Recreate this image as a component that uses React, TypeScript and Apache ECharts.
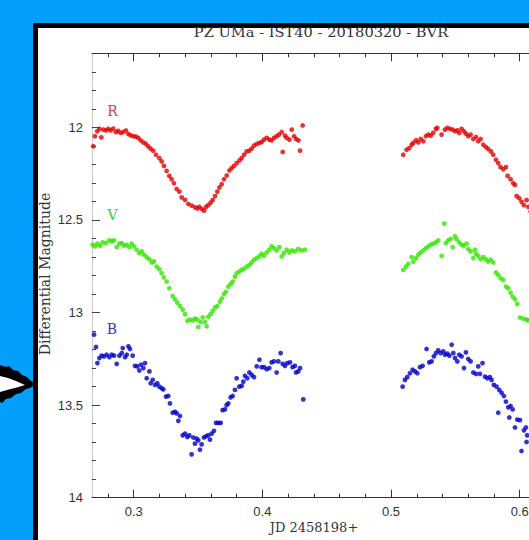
import React, { useEffect, useRef } from "react";
import * as echarts from "echarts";

// Light curve data: [JD - 2458198, differential magnitude]
const R_FIRST: number[][] = [
  [0.2686,12.102],[0.2699,12.048],[0.2717,12.021],[0.2733,12.008],[0.2748,12.054],[0.2764,12.012],[0.2785,12.016],[0.2803,12.008],[0.2821,12.017],[0.2841,12.007],[0.2862,12.026],[0.2880,12.019],[0.2899,12.030],[0.2919,12.025],[0.2940,12.017],[0.2958,12.036],[0.2976,12.043],[0.2997,12.048],[0.3017,12.050],[0.3036,12.057],[0.3054,12.070],[0.3074,12.081],[0.3095,12.090],[0.3113,12.103],[0.3131,12.115],[0.3152,12.126],[0.3173,12.148],[0.3199,12.166],[0.3217,12.184],[0.3235,12.208],[0.3256,12.235],[0.3277,12.262],[0.3295,12.280],[0.3313,12.302],[0.3334,12.333],[0.3355,12.347],[0.3373,12.378],[0.3399,12.392],[0.3425,12.414],[0.3451,12.423],[0.3477,12.432],[0.3495,12.438],[0.3510,12.429],[0.3529,12.441],[0.3547,12.450],[0.3562,12.429],[0.3580,12.420],[0.3598,12.407],[0.3614,12.393],[0.3632,12.371],[0.3650,12.347],[0.3666,12.325],[0.3684,12.307],[0.3702,12.280],[0.3723,12.260],[0.3744,12.233],[0.3762,12.220],[0.3780,12.208],[0.3801,12.193],[0.3822,12.179],[0.3839,12.166],[0.3858,12.148],[0.3878,12.130],[0.3899,12.126],[0.3917,12.115],[0.3935,12.099],[0.3956,12.090],[0.3977,12.084],[0.3995,12.079],[0.4013,12.066],[0.4034,12.057],[0.4054,12.066],[0.4072,12.070],[0.4091,12.057],[0.4111,12.048],[0.4129,12.039],[0.4150,12.026],[0.4158,12.133],[0.4176,12.045],[0.4189,12.057],[0.4210,12.066],[0.4228,12.012],[0.4246,12.048],[0.4262,12.063],[0.4280,12.070],[0.4293,12.126],[0.4313,11.990]
];
const R_SECOND: number[][] = [
  [0.5095,12.148],[0.5121,12.121],[0.5142,12.112],[0.5160,12.094],[0.5173,12.084],[0.5194,12.070],[0.5212,12.081],[0.5230,12.063],[0.5251,12.075],[0.5271,12.048],[0.5290,12.039],[0.5308,12.045],[0.5328,12.030],[0.5349,12.008],[0.5359,12.003],[0.5393,12.039],[0.5419,12.012],[0.5437,12.003],[0.5458,12.008],[0.5478,12.012],[0.5497,12.021],[0.5515,12.016],[0.5530,12.030],[0.5548,12.008],[0.5567,12.021],[0.5582,12.034],[0.5600,12.048],[0.5618,12.039],[0.5639,12.063],[0.5660,12.052],[0.5678,12.075],[0.5696,12.063],[0.5717,12.094],[0.5737,12.106],[0.5755,12.117],[0.5776,12.130],[0.5794,12.148],[0.5815,12.175],[0.5833,12.193],[0.5851,12.215],[0.5872,12.226],[0.5893,12.215],[0.5906,12.262],[0.5929,12.280],[0.5950,12.302],[0.5963,12.311],[0.5976,12.371],[0.5996,12.383],[0.6014,12.402],[0.6032,12.420],[0.6053,12.393],[0.6066,12.429],[0.6085,12.455],[0.6110,12.480]
];
const V_FIRST: number[][] = [
  [0.2681,12.634],[0.2699,12.643],[0.2718,12.628],[0.2738,12.639],[0.2759,12.621],[0.2785,12.625],[0.2811,12.610],[0.2829,12.616],[0.2847,12.610],[0.2868,12.647],[0.2889,12.628],[0.2907,12.625],[0.2925,12.639],[0.2946,12.634],[0.2966,12.647],[0.2984,12.628],[0.3002,12.643],[0.3023,12.661],[0.3044,12.679],[0.3062,12.670],[0.3080,12.688],[0.3101,12.701],[0.3122,12.712],[0.3140,12.730],[0.3158,12.724],[0.3179,12.752],[0.3199,12.766],[0.3217,12.788],[0.3235,12.810],[0.3256,12.833],[0.3277,12.869],[0.3303,12.911],[0.3321,12.929],[0.3339,12.947],[0.3360,12.965],[0.3381,12.984],[0.3399,13.009],[0.3417,13.045],[0.3437,13.038],[0.3458,13.042],[0.3476,13.033],[0.3494,13.038],[0.3502,13.078],[0.3520,13.051],[0.3536,13.027],[0.3554,13.051],[0.3567,13.074],[0.3580,13.023],[0.3598,13.009],[0.3614,12.991],[0.3632,12.973],[0.3650,12.965],[0.3671,12.942],[0.3684,12.924],[0.3702,12.900],[0.3717,12.888],[0.3735,12.860],[0.3754,12.846],[0.3769,12.833],[0.3787,12.806],[0.3800,12.788],[0.3821,12.779],[0.3839,12.770],[0.3857,12.764],[0.3878,12.752],[0.3899,12.743],[0.3917,12.730],[0.3935,12.715],[0.3956,12.706],[0.3977,12.697],[0.3994,12.683],[0.4013,12.694],[0.4033,12.676],[0.4054,12.661],[0.4072,12.643],[0.4090,12.652],[0.4111,12.665],[0.4132,12.647],[0.4150,12.697],[0.4168,12.679],[0.4189,12.661],[0.4209,12.676],[0.4228,12.665],[0.4253,12.670],[0.4279,12.657],[0.4305,12.665],[0.4331,12.661]
];
const V_SECOND: number[][] = [
  [0.5095,12.770],[0.5116,12.752],[0.5134,12.737],[0.5160,12.701],[0.5173,12.725],[0.5194,12.706],[0.5212,12.688],[0.5230,12.676],[0.5251,12.665],[0.5271,12.652],[0.5290,12.643],[0.5308,12.634],[0.5328,12.628],[0.5349,12.621],[0.5367,12.610],[0.5393,12.694],[0.5414,12.520],[0.5427,12.625],[0.5445,12.610],[0.5463,12.603],[0.5479,12.647],[0.5497,12.589],[0.5509,12.603],[0.5530,12.621],[0.5548,12.634],[0.5567,12.639],[0.5587,12.628],[0.5600,12.657],[0.5618,12.670],[0.5639,12.706],[0.5652,12.661],[0.5660,12.683],[0.5678,12.694],[0.5696,12.712],[0.5717,12.701],[0.5737,12.712],[0.5755,12.725],[0.5774,12.715],[0.5794,12.730],[0.5815,12.784],[0.5833,12.797],[0.5851,12.815],[0.5872,12.824],[0.5893,12.860],[0.5911,12.869],[0.5929,12.893],[0.5945,12.915],[0.5963,12.929],[0.5981,12.955],[0.6002,13.027],[0.6028,13.033],[0.6053,13.038],[0.6066,13.042],[0.6090,13.060]
];
const B_FIRST: number[][] = [
  [0.2692,13.119],[0.2707,13.186],[0.2718,13.273],[0.2733,13.246],[0.2751,13.233],[0.2769,13.237],[0.2790,13.228],[0.2811,13.241],[0.2829,13.228],[0.2847,13.233],[0.2868,13.277],[0.2889,13.233],[0.2907,13.219],[0.2915,13.192],[0.2933,13.241],[0.2946,13.228],[0.2959,13.183],[0.2971,13.197],[0.2992,13.233],[0.3010,13.288],[0.3028,13.291],[0.3044,13.313],[0.3057,13.282],[0.3075,13.300],[0.3088,13.273],[0.3101,13.355],[0.3122,13.318],[0.3132,13.382],[0.3148,13.364],[0.3166,13.391],[0.3184,13.382],[0.3199,13.400],[0.3217,13.409],[0.3230,13.415],[0.3251,13.454],[0.3269,13.451],[0.3282,13.491],[0.3303,13.541],[0.3321,13.536],[0.3334,13.545],[0.3347,13.585],[0.3360,13.559],[0.3381,13.663],[0.3399,13.654],[0.3417,13.672],[0.3432,13.663],[0.3450,13.766],[0.3463,13.675],[0.3476,13.708],[0.3489,13.681],[0.3502,13.690],[0.3515,13.741],[0.3528,13.712],[0.3546,13.675],[0.3562,13.668],[0.3580,13.663],[0.3593,13.686],[0.3606,13.654],[0.3624,13.639],[0.3640,13.596],[0.3658,13.596],[0.3676,13.596],[0.3691,13.527],[0.3709,13.523],[0.3722,13.500],[0.3735,13.491],[0.3753,13.458],[0.3769,13.451],[0.3787,13.418],[0.3800,13.355],[0.3821,13.400],[0.3839,13.396],[0.3852,13.373],[0.3865,13.342],[0.3883,13.355],[0.3899,13.324],[0.3917,13.337],[0.3935,13.349],[0.3956,13.291],[0.3977,13.255],[0.3994,13.295],[0.4013,13.295],[0.4033,13.306],[0.4054,13.300],[0.4072,13.269],[0.4090,13.264],[0.4111,13.324],[0.4124,13.264],[0.4142,13.219],[0.4158,13.277],[0.4176,13.288],[0.4194,13.273],[0.4215,13.269],[0.4235,13.295],[0.4253,13.288],[0.4261,13.324],[0.4279,13.318],[0.4293,13.300],[0.4318,13.469]
];
const B_SECOND: number[][] = [
  [0.5090,13.400],[0.5108,13.364],[0.5126,13.349],[0.5147,13.328],[0.5168,13.309],[0.5186,13.318],[0.5204,13.328],[0.5225,13.295],[0.5245,13.288],[0.5276,13.197],[0.5297,13.269],[0.5315,13.264],[0.5333,13.237],[0.5349,13.219],[0.5367,13.204],[0.5385,13.219],[0.5406,13.210],[0.5419,13.228],[0.5437,13.222],[0.5453,13.233],[0.5471,13.174],[0.5484,13.219],[0.5497,13.246],[0.5515,13.264],[0.5530,13.228],[0.5548,13.237],[0.5567,13.300],[0.5582,13.215],[0.5600,13.251],[0.5618,13.264],[0.5639,13.324],[0.5660,13.331],[0.5678,13.291],[0.5691,13.331],[0.5711,13.273],[0.5730,13.346],[0.5748,13.355],[0.5768,13.349],[0.5781,13.364],[0.5799,13.391],[0.5820,13.400],[0.5841,13.418],[0.5859,13.433],[0.5877,13.451],[0.5893,13.481],[0.5833,13.541],[0.5911,13.512],[0.5929,13.505],[0.5945,13.523],[0.5919,13.567],[0.5963,13.621],[0.5981,13.578],[0.6002,13.581],[0.6033,13.636],[0.6048,13.621],[0.6058,13.663],[0.6014,13.748],[0.6053,13.699]
];

const X_MAJOR = [0.3, 0.4, 0.5, 0.6, 0.7];
const X_LABELS = [0.3, 0.4, 0.5, 0.6];
const X_MINOR = [0.28, 0.32, 0.34, 0.36, 0.38, 0.42, 0.44, 0.46, 0.48, 0.52, 0.54, 0.56, 0.58, 0.62, 0.64, 0.66, 0.68];
const Y_MAJOR = [12, 12.5, 13, 13.5];
const Y_LABELS = [12, 12.5, 13, 13.5, 14];
const Y_MINOR = [11.7, 11.8, 11.9, 12.1, 12.2, 12.3, 12.4, 12.6, 12.7, 12.8, 12.9, 13.1, 13.2, 13.3, 13.4, 13.6, 13.7, 13.8, 13.9];

const TITLE = "PZ UMa - IST40 - 20180320 - BVR";
const X_NAME = "JD 2458198+";
const Y_NAME = "Differential Magnitude";

const X_MIN = 0.2676;
const X_MAX = 0.7;
const Y_MIN = 11.6;
const Y_MAX = 14;

const BG = "#02a0fc";
const RED = "#e30000";
const GREEN = "#33e600";
const BLUE = "#0000c8";

export default function App() {
  const ref = useRef<HTMLDivElement>(null);

  useEffect(() => {
    if (!ref.current) return;
    const chart = echarts.init(ref.current, null, { renderer: "svg" });

    const baseX = (position: string, ticks: number[], len: number, showLine: boolean, labels: number[] | null) => ({
      type: "value",
      gridIndex: 0,
      position,
      min: X_MIN,
      max: X_MAX,
      axisLine: { show: showLine, onZero: false, lineStyle: { color: "#333", width: 1 } },
      axisTick: { show: true, inside: true, length: len, customValues: ticks, lineStyle: { color: "#333", width: 1 } },
      axisLabel: labels
        ? { show: true, customValues: labels, color: "#333", fontSize: 13, fontFamily: "Liberation Sans", margin: 7 }
        : { show: false },
      splitLine: { show: false },
    });
    const baseY = (ticks: number[], len: number, showLine: boolean, labels: number[] | null) => ({
      type: "value",
      gridIndex: 0,
      position: "left",
      inverse: true,
      min: Y_MIN,
      max: Y_MAX,
      axisLine: { show: showLine, onZero: false, lineStyle: { color: "#c8c8c8", width: 1 } },
      axisTick: { show: true, inside: true, length: len, customValues: ticks, lineStyle: { color: "#444", width: 1 } },
      axisLabel: labels
        ? { show: true, customValues: labels, color: "#333", fontSize: 13, fontFamily: "Liberation Sans", margin: 9 }
        : { show: false },
      splitLine: { show: false },
    });

    const scatter = (name: string, data: number[][], color: string) => ({
      type: "scatter",
      name,
      xAxisIndex: 0,
      yAxisIndex: 0,
      data,
      symbol: "circle",
      symbolSize: 4.8,
      itemStyle: { color },
      silent: true,
    });

    const serifText = (text: string, x: number, y: number, size: number, fill: string, extra: any = {}) => ({
      type: "text",
      x,
      y,
      silent: true,
      ...extra,
      style: {
        text,
        fontSize: size,
        fontFamily: "DejaVu Serif",
        fill,
        textAlign: "center",
        align: "center",
        textVerticalAlign: "middle",
        verticalAlign: "middle",
      },
    });

    chart.setOption({
      animation: false,
      backgroundColor: "transparent",
      grid: { left: 92, top: 53.3, width: 556.4, bottom: 42.3, containLabel: false },
      xAxis: [
        baseX("bottom", X_MAJOR, 8, true, X_LABELS),
        baseX("bottom", X_MINOR, 4, false, null),
        baseX("top", X_MAJOR, 8, true, null),
        baseX("top", X_MINOR, 4, false, null),
      ],
      yAxis: [baseY(Y_MAJOR, 8, true, Y_LABELS), baseY(Y_MINOR, 4, false, null)],
      series: [
        scatter("R1", R_FIRST, RED),
        scatter("R2", R_SECOND, RED),
        scatter("V1", V_FIRST, GREEN),
        scatter("V2", V_SECOND, GREEN),
        scatter("B1", B_FIRST, BLUE),
        scatter("B2", B_SECOND, BLUE),
      ],
      graphic: [
        serifText(TITLE, 321, 33, 12, "#333", { scaleX: 1.22 }),
        serifText(X_NAME, 314, 527, 13, "#333"),
        serifText(Y_NAME, 45, 274, 14, "#333", { rotation: Math.PI / 2 }),
        serifText("R", 112.5, 111, 14, "#e0404a"),
        serifText("V", 112.5, 215, 14, "#33cc33"),
        serifText("B", 112, 329, 14, "#3535c8"),
        {
          type: "polygon",
          silent: true,
          shape: {
            points: [
              [0, 365], [6, 367], [9, 366], [13, 370], [18, 371], [22, 375], [27, 377], [31, 381], [36, 384],
              [30, 388], [26, 389], [21, 393], [16, 394], [11, 398], [6, 399], [2, 403], [0, 402],
            ],
          },
          style: { fill: "#000" },
        },
        {
          type: "polygon",
          silent: true,
          shape: { points: [[0, 376], [8, 378], [16, 381], [25, 385], [15, 388], [7, 390], [0, 392]] },
          style: { fill: "#fff" },
        },
      ],
    });

    return () => chart.dispose();
  }, []);

  return (
    <div style={{ position: "fixed", left: 0, top: 0, width: 529, height: 540, overflow: "hidden", background: BG }}>
      <div
        style={{
          position: "absolute",
          left: 33,
          top: 23,
          width: 700,
          height: 600,
          background: "#fff",
          borderLeft: "5px solid #000",
          borderTop: "5px solid #000",
        }}
      />
      <div ref={ref} style={{ position: "absolute", left: 0, top: 0, width: 700, height: 540 }} />
    </div>
  );
}
